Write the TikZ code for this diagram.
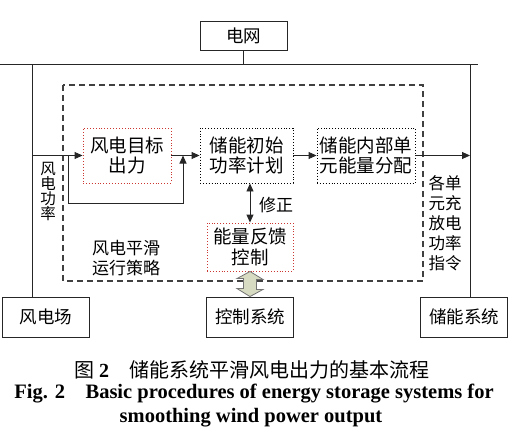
\documentclass[tikz,border=0pt]{standalone}
\usepackage{fontspec}
\setmainfont{Liberation Serif}
\newfontfamily\cjk{Noto Sans CJK SC}
\usetikzlibrary{arrows.meta}
\definecolor{olivefill}{RGB}{214,219,194}
\definecolor{dotred}{RGB}{205,55,50}
\begin{document}
\begin{tikzpicture}[x=1pt,y=-1pt,
    line/.style={draw=black!85,line width=0.9pt},
    arr/.style={line,-{Triangle[length=8pt,width=7pt]}},
    box/.style={line,minimum width=87pt,minimum height=40pt,inner sep=0pt,font=\cjk\fontsize{17.5}{20}\selectfont},
    stepbox/.style={draw=black,dotted,line width=0.9pt,minimum width=92pt,minimum height=55pt,inner sep=0pt,align=center,font=\cjk\fontsize{18.5}{20.5}\selectfont},
    redbox/.style={stepbox,draw=dotred},
    lbl/.style={inner sep=0pt,align=center,font=\cjk\fontsize{17}{19.5}\selectfont},
  ]
  \useasboundingbox (0,0) rectangle (514,439);

  % boxes outside the strategy
  \node[box,minimum height=29pt] (grid) at (243.5,35.5) {电网};
  \node[box] (farm) at (46,317) {风电场};
  \node[box] (ctrl) at (250,317) {控制系统};
  \node[box] (ess) at (464,317) {储能系统};

  % bus
  \coordinate (busL) at (0,64);
  \coordinate (busR) at (478,64);
  \coordinate (farmtap) at (32,64);
  \coordinate (esstap) at (470,64);
  \draw[line] (busL) -- (busR);
  \draw[line] (grid.south) -- (grid.south |- busL);
  \draw[line] (farmtap) -- (farmtap |- farm.north);
  \draw[line] (esstap) -- (esstap |- ess.north);

  % strategy frame
  \draw[draw=black!75,line width=1.1pt,dash pattern=on 6pt off 4pt] (63,85) rectangle (423,281);

  % steps
  \node[redbox,minimum width=88pt] (target) at (127,155.5) {风电目标\\出力};
  \node[stepbox,minimum width=93pt] (plan) at (246.5,155.5) {储能初始\\功率计划};
  \node[stepbox,minimum width=98pt] (alloc) at (366,155.5) {储能内部单\\元能量分配};
  \node[redbox,minimum width=86pt,minimum height=48pt] (fb) at (250,247) {能量反馈\\控制};

  % connectors
  \coordinate (wp) at (32,155.5);
  \coordinate (br) at (68,155.5);
  \coordinate (mrg) at (183,155.5);
  \coordinate (cmd) at (470,155.5);
  \draw[arr] (wp) -- (target.west);
  \draw[arr] (br) |- (183,203) -- (mrg);
  \draw[arr] (target.east) -- (plan.west);
  \draw[arr] (plan.east) -- (alloc.west);
  \draw[arr] (alloc.east) -- (cmd);
  \draw[line,{Triangle[length=8pt,width=7pt]}-{Triangle[length=8pt,width=7pt]}] (plan.south -| fb.north) -- (fb.north);
  \draw[draw=black!55,fill=olivefill,line width=0.8pt] (fb.south) -- ++(13,8) -- ++(-6.5,0) -- ++(0,10)
    -- ++(6.5,0) -- (ctrl.north) -- ++(-13,-8) -- ++(6.5,0) -- ++(0,-10) -- ++(-6.5,0) -- cycle;

  % labels
  \node[lbl] (fix) at (276,205) {修正};
  \node[lbl,font=\cjk\fontsize{15.5}{15}\selectfont] (wpl) at (48,191) {风\\电\\功\\率};
  \node[lbl] (stl) at (126,258) {风电平滑\\运行策略};
  \node[lbl,font=\cjk\fontsize{16.5}{20}\selectfont] (cmdl) at (445,223) {各单\\元充\\放电\\功率\\指令};

  % caption
  \node[font=\cjk\fontsize{20}{20}\selectfont] (cap1) at (252,370) {图 {\rmfamily\bfseries 2}\quad 储能系统平滑风电出力的基本流程};
  \node[font=\bfseries\fontsize{20.5}{22}\selectfont] (cap2) at (254,394) {Fig. 2\quad Basic procedures of energy storage systems for};
  \node[font=\bfseries\fontsize{20.5}{22}\selectfont] (cap3) at (251,418) {smoothing wind power output};
\end{tikzpicture}
\end{document}
